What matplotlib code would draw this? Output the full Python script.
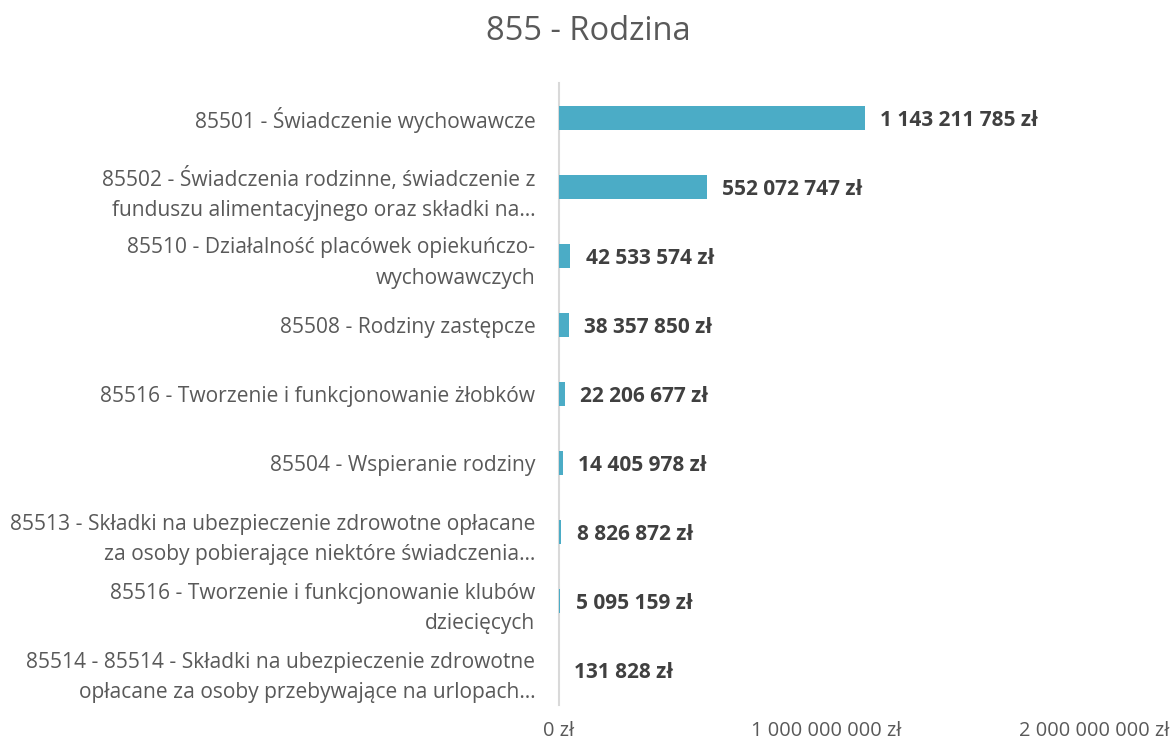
import matplotlib
matplotlib.use("Agg")
import matplotlib.pyplot as plt
from matplotlib.ticker import FuncFormatter

plt.rcParams['font.family'] = ['Open Sans', 'DejaVu Sans']

title = "855 - Rodzina"
categories = [
    "85501 - Świadczenie wychowawcze",
    "85502 - Świadczenia rodzinne, świadczenie z\nfunduszu alimentacyjnego oraz składki na…",
    "85510 - Działalność placówek opiekuńczo-\nwychowawczych",
    "85508 - Rodziny zastępcze",
    "85516 - Tworzenie i funkcjonowanie żłobków",
    "85504 - Wspieranie rodziny",
    "85513 - Składki na ubezpieczenie zdrowotne opłacane\nza osoby pobierające niektóre świadczenia…",
    "85516 - Tworzenie i funkcjonowanie klubów\ndziecięcych",
    "85514 - 85514 - Składki na ubezpieczenie zdrowotne\nopłacane za osoby przebywające na urlopach…",
]
values = [1143211785, 552072747, 42533574, 38357850, 22206677,
          14405978, 8826872, 5095159, 131828]
xticks = [0, 1_000_000_000, 2_000_000_000]


def pln(v):
    return f"{int(v):,}".replace(",", " ") + " zł"


fig = plt.figure(figsize=(11.76, 7.42), dpi=100)
ax = fig.add_axes([0.4753, 0.0505, 0.455, 0.837])

ypos = list(range(len(categories)))
ax.barh(ypos, values, height=0.35, color="#4BACC6", zorder=3)
ax.set_ylim(len(categories) - 0.5, -0.5)
ax.set_xlim(0, 2_000_000_000)

ax.set_yticks(ypos)
ax.set_yticklabels(categories, fontsize=15.1, color="#595959",
                   linespacing=1.58)
ax.tick_params(axis="y", length=0, pad=17)

ax.set_xticks(xticks)
ax.xaxis.set_major_formatter(FuncFormatter(lambda v, p: pln(v)))
ax.tick_params(axis="x", length=0, pad=12, labelsize=14.4,
               labelcolor="#595959")

for s in ("top", "right", "bottom"):
    ax.spines[s].set_visible(False)
ax.spines["left"].set_color("#D9D9D9")
ax.spines["left"].set_linewidth(1.5)

for y, v in zip(ypos, values):
    ax.annotate(pln(v), xy=(v, y), xytext=(11, 0), textcoords="offset points",
                va="center_baseline", ha="left", fontsize=15,
                fontweight="bold", color="#404040")

fig.text(0.5, 0.957, title, ha="center", va="center", fontsize=23.5,
         color="#595959")

fig.savefig("out.png", dpi=100)
